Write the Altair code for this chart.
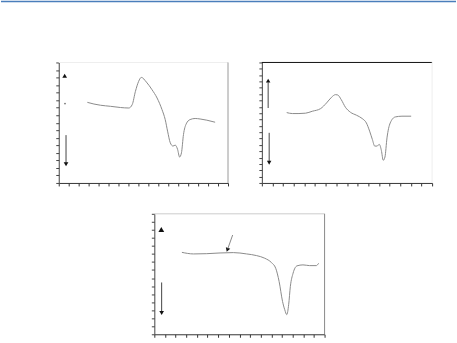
import altair as alt
import pandas as pd

# ---- Panel 1 (top-left) curve ----
p1_x = [16.9, 20.8, 24.7, 30.6, 36.5, 41.4, 43.4, 45.3, 47.2, 48.8, 51.8, 55.1, 58.1, 61.0, 62.9,
        64.3, 65.9, 67.5, 68.8, 70.2, 71.4, 72.5, 73.7, 75.3, 77.6, 80.6, 83.5, 87.5, 92.4]
p1_y = [66.9, 65.5, 64.5, 63.6, 62.6, 62.2, 65.0, 76.0, 84.3, 87.6, 83.7, 77.4, 70.5, 60.9, 52.6,
        43.0, 33.3, 30.6, 31.4, 27.9, 21.5, 25.0, 40.2, 49.0, 52.6, 53.5, 53.1, 52.1, 50.4]

# ---- Panel 2 (top-right) curve ----
p2_x = [14.6, 17.9, 21.8, 25.7, 29.6, 34.5, 38.0, 40.9, 43.3, 44.6, 46.6, 49.1, 52.0, 55.6, 58.9,
        61.4, 63.3, 64.9, 66.3, 67.6, 69.0, 70.2, 71.3, 72.3, 73.5, 75.4, 78.4, 82.3, 87.7]
p2_y = [58.4, 57.6, 57.6, 57.9, 59.5, 61.7, 66.4, 71.1, 73.3, 73.0, 69.2, 62.8, 58.7, 56.2, 53.5,
        49.8, 43.0, 36.1, 30.6, 30.6, 32.0, 27.0, 18.8, 21.5, 37.4, 49.8, 54.8, 55.4, 55.4]

# ---- Panel 3 (bottom) curve ----
p3_x = [16.2, 23.0, 30.8, 38.6, 46.4, 54.2, 60.1, 64.9, 68.8, 71.3, 73.3, 75.3, 76.6, 77.8, 78.9,
        79.9, 81.5, 83.8, 87.3, 91.2, 95.1, 96.5]
p3_y = [68.0, 66.7, 66.9, 67.5, 67.8, 66.7, 65.3, 63.1, 59.5, 54.8, 43.8, 27.3, 20.4, 16.3, 24.5,
        39.7, 50.7, 56.8, 57.6, 57.0, 57.0, 58.9]

# ---- arrow annotations ----
p1_arrow_lines = [(4.3, 39.7, 16.5)]
p1_heads = [(4.3, 15.5, "triangle-down", 0, 22), (3.5, 88.9, "triangle-up", 0, 22)]
p1_dots = [(3.7, 65.9)]

p2_arrow_lines = [(3.7, 62.2, 83.5), (4.3, 41.6, 18.0)]
p2_heads = [(3.7, 84.9, "triangle-up", 0, 20), (4.3, 16.8, "triangle-down", 0, 20)]

p3_arrow_lines = [(4.3, 43.0, 18.5)]
p3_heads = [(4.3, 17.6, "triangle-down", 0, 22), (4.1, 87.0, "triangle-up", 0, 34),
            (42.9, 70.0, "triangle-down", 20, 22)]
p3_diag = [(46.0, 82.4, 43.2, 71.2)]

# ---- tick counts (intervals) ----
p1_ticks = (17, 16)
p2_ticks = (16, 19)
p3_ticks = (16, 15)

dummy = pd.DataFrame({"a": [0]})


def ticks(n):
    return [round(k * 100.0 / n, 4) for k in range(n + 1)]


def panel(cx, cy, tk, w, h, lines, heads, dots=None, diag=None,
          top_color="#dddddd", right_color="#999999"):
    xs = alt.Scale(domain=[0, 100], nice=False, zero=False)
    ys = alt.Scale(domain=[0, 100], nice=False, zero=False)
    ax = alt.Axis(values=ticks(tk[0]), labels=False, title=None, grid=False, tickSize=3,
                  domainColor="#333333", tickColor="#333333", minExtent=0, domainWidth=1)
    ay = alt.Axis(values=ticks(tk[1]), labels=False, title=None, grid=False, tickSize=3,
                  domainColor="#444444", tickColor="#444444", minExtent=0, domainWidth=1)

    def X(f="x"):
        return alt.X(f + ":Q", scale=xs, axis=ax)

    def Y(f="y"):
        return alt.Y(f + ":Q", scale=ys, axis=ay)

    curve = alt.Chart(pd.DataFrame({"x": cx, "y": cy})).mark_line(
        color="#8a8a8a", strokeWidth=1, interpolate="monotone").encode(x=X(), y=Y())

    layers = [curve]
    ldf = pd.DataFrame({"x": [l[0] for l in lines], "y": [l[1] for l in lines],
                        "y2": [l[2] for l in lines]})
    layers.append(alt.Chart(ldf).mark_rule(color="#444444", strokeWidth=1).encode(
        x=X(), y=Y(), y2="y2:Q"))
    hdf = pd.DataFrame({"x": [hh[0] for hh in heads], "y": [hh[1] for hh in heads],
                        "s": [hh[2] for hh in heads], "ang": [hh[3] for hh in heads],
                        "sz": [hh[4] for hh in heads]})
    layers.append(alt.Chart(hdf).mark_point(filled=True, color="#111111", opacity=1).encode(
        x=X(), y=Y(), shape=alt.Shape("s:N", scale=None), angle=alt.Angle("ang:Q", scale=None),
        size=alt.Size("sz:Q", scale=None)))
    if dots:
        ddf = pd.DataFrame({"x": [d[0] for d in dots], "y": [d[1] for d in dots]})
        layers.append(alt.Chart(ddf).mark_point(filled=True, color="#333333", size=3).encode(x=X(), y=Y()))
    if diag:
        gdf = pd.DataFrame({"x": [d[0] for d in diag], "y": [d[1] for d in diag],
                            "x2": [d[2] for d in diag], "y2": [d[3] for d in diag]})
        layers.append(alt.Chart(gdf).mark_rule(color="#888888", strokeWidth=1).encode(
            x=X(), y=Y(), x2="x2:Q", y2="y2:Q"))
    layers.append(alt.Chart(dummy).mark_rule(color=top_color, strokeWidth=1).encode(
        x=alt.value(0), x2=alt.value(w), y=alt.value(0)))
    layers.append(alt.Chart(dummy).mark_rule(color=right_color, strokeWidth=1).encode(
        x=alt.value(w), y=alt.value(0), y2=alt.value(h)))
    return alt.layer(*layers).properties(width=w, height=h)


def spacer(w, h):
    return alt.Chart(dummy).mark_rect(opacity=0).encode(
        x=alt.value(0), x2=alt.value(w), y=alt.value(0), y2=alt.value(h)).properties(width=w, height=h)


pan1 = panel(p1_x, p1_y, p1_ticks, 170, 121, p1_arrow_lines, p1_heads, dots=p1_dots,
             top_color="#eeeeee", right_color="#999999")
pan2 = panel(p2_x, p2_y, p2_ticks, 171, 121, p2_arrow_lines, p2_heads,
             top_color="#111111", right_color="#eeeeee")
pan3 = panel(p3_x, p3_y, p3_ticks, 171, 121, p3_arrow_lines, p3_heads, diag=p3_diag,
             top_color="#cccccc", right_color="#888888")

topbar = alt.Chart(dummy).mark_rule(color="#4a7ebb", strokeWidth=1.5).encode(
    x=alt.value(0), x2=alt.value(457), y=alt.value(0.75)).properties(width=457, height=1)

row1 = alt.hconcat(spacer(54, 5), pan1, spacer(29, 5), pan2, spacing=0)
row2 = alt.hconcat(spacer(150, 5), pan3, spacing=0)

chart = alt.vconcat(topbar, spacer(5, 59), row1, spacer(5, 26), row2, spacing=0).properties(
    padding={"left": 0, "top": 0, "right": 0, "bottom": 0}
).configure_view(stroke=None)

chart.save("out.html", embed_options={"renderer": "svg", "actions": False})
